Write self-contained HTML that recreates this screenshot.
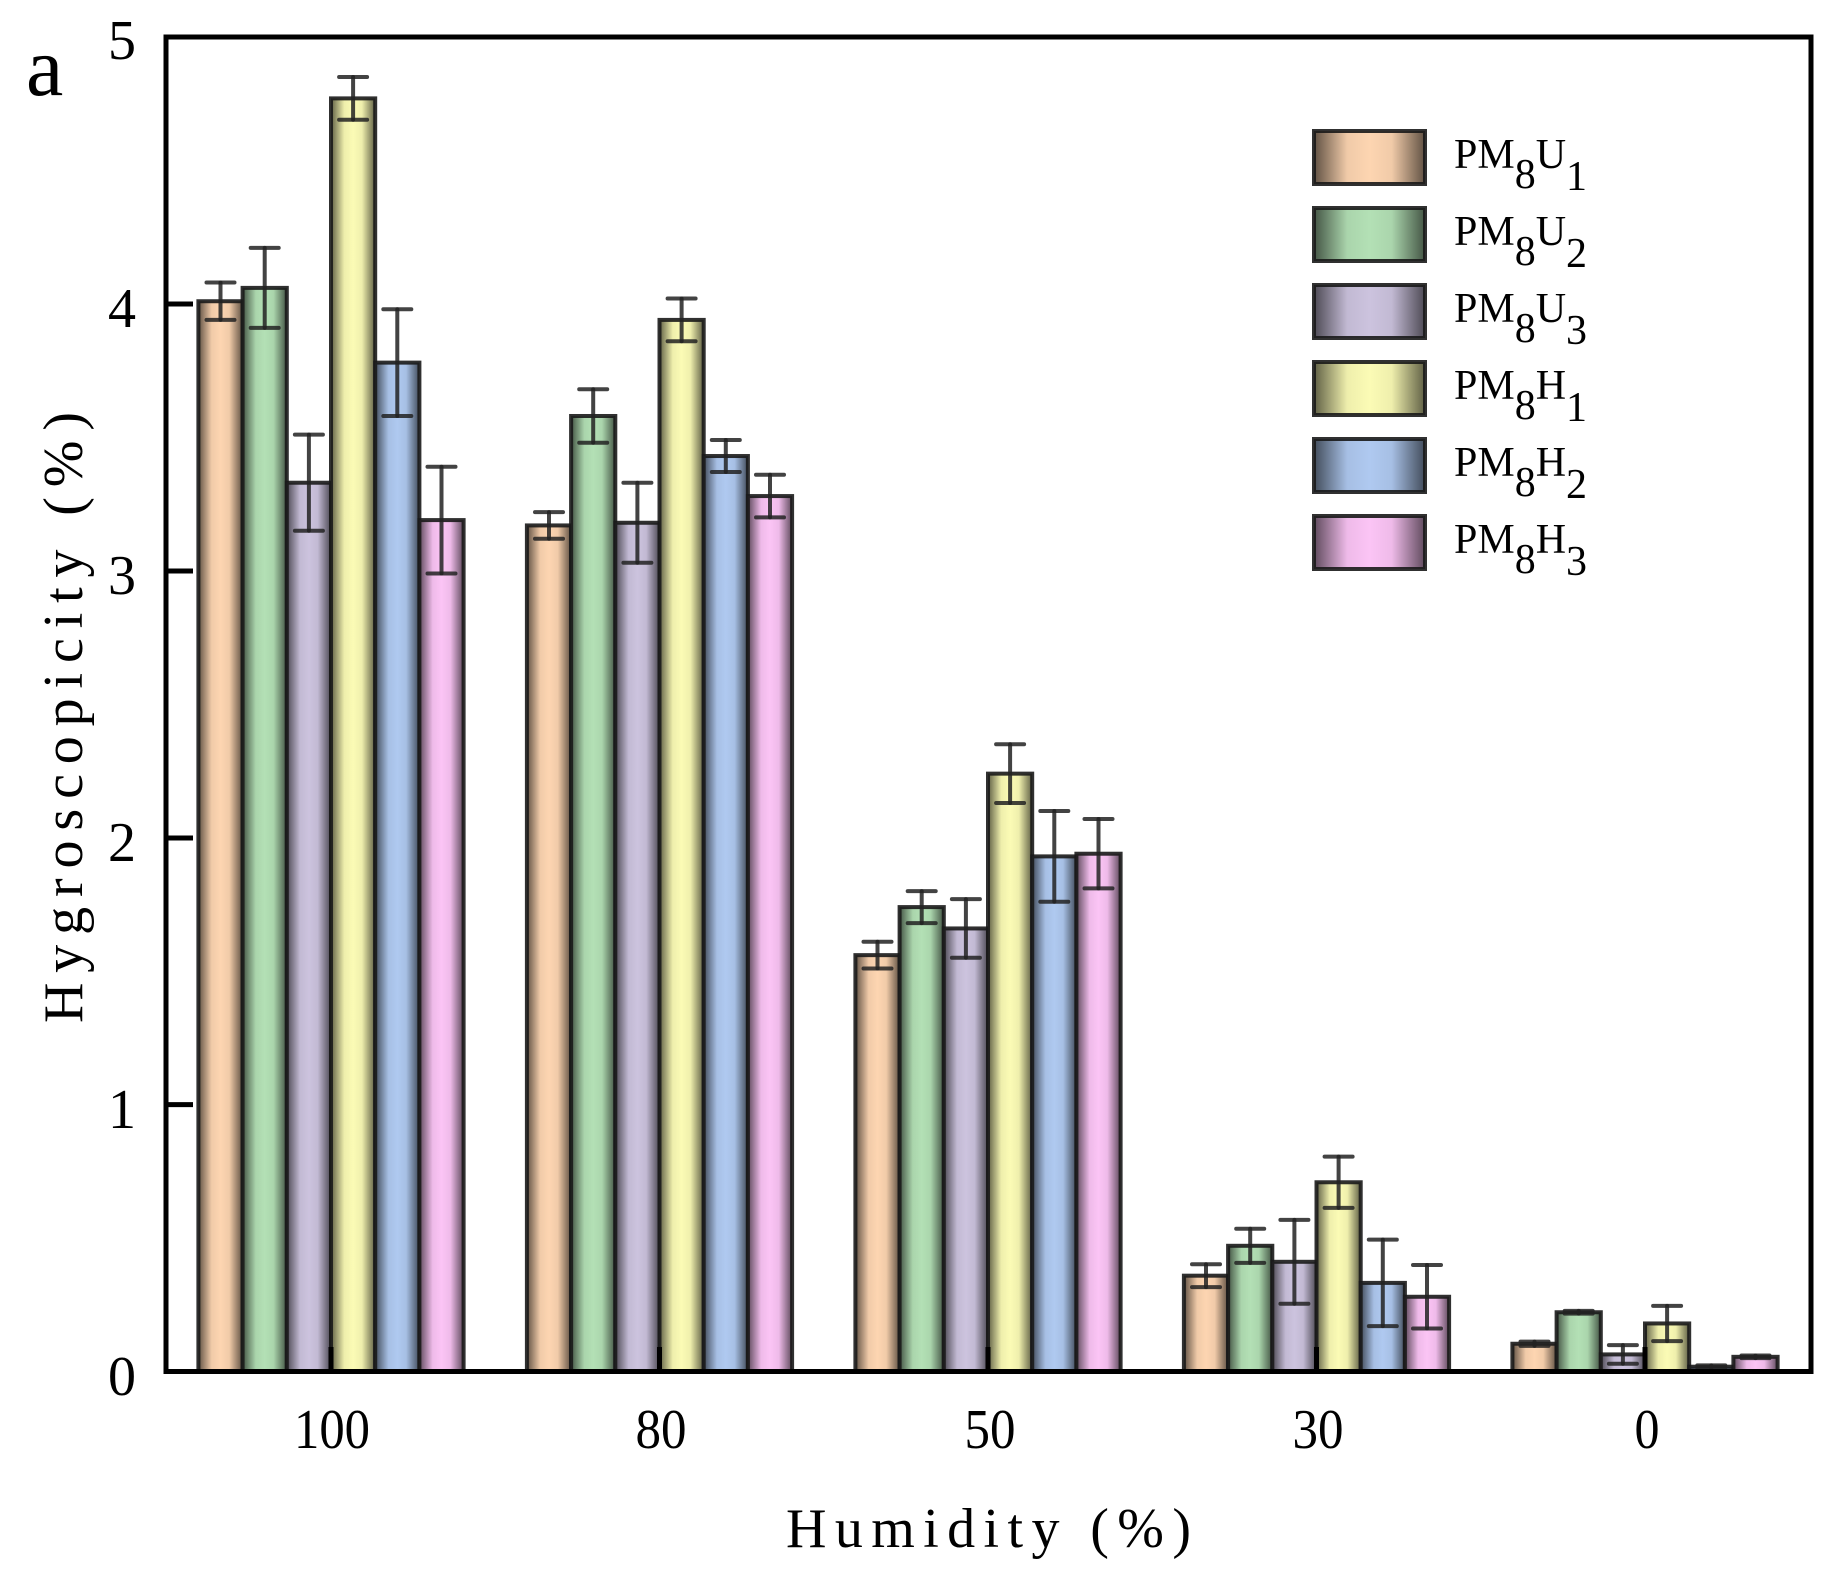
<!DOCTYPE html>
<html><head><meta charset="utf-8"><style>
html,body{margin:0;padding:0;background:#fff;}
svg{display:block;}
text{font-family:"Liberation Serif",serif;fill:#000;}
</style></head><body>
<svg id="s" width="1836" height="1580" viewBox="0 0 1836 1580" xmlns="http://www.w3.org/2000/svg">
<defs>
<linearGradient id="sh" x1="0" y1="0" x2="1" y2="0">
<stop offset="0" stop-color="#000" stop-opacity="0.62"/>
<stop offset="0.3" stop-color="#000" stop-opacity="0.05"/>
<stop offset="0.5" stop-color="#000" stop-opacity="0"/>
<stop offset="0.7" stop-color="#000" stop-opacity="0.05"/>
<stop offset="1" stop-color="#000" stop-opacity="0.62"/>
</linearGradient>
</defs>
<g id="bars"></g>
<rect x="166" y="37" width="1645" height="1334.5" fill="none" stroke="#000" stroke-width="5"/>
<g stroke="#000" stroke-width="5">
<line x1="166" y1="304" x2="193" y2="304"/>
<line x1="166" y1="571" x2="193" y2="571"/>
<line x1="166" y1="838" x2="193" y2="838"/>
<line x1="166" y1="1104.6" x2="193" y2="1104.6"/>
<line x1="331" y1="1371" x2="331" y2="1347"/>
<line x1="659.5" y1="1371" x2="659.5" y2="1347"/>
<line x1="988" y1="1371" x2="988" y2="1347"/>
<line x1="1316.5" y1="1371" x2="1316.5" y2="1347"/>
<line x1="1645" y1="1371" x2="1645" y2="1347"/>
</g>
<g font-size="56" text-anchor="end">
<text x="136" y="59">5</text>
<text x="136" y="327">4</text>
<text x="136" y="594">3</text>
<text x="136" y="861">2</text>
<text x="136" y="1128">1</text>
<text x="136" y="1395">0</text>
</g>
<g font-size="56" text-anchor="middle">
<text x="332" y="1448" textLength="76" lengthAdjust="spacingAndGlyphs">100</text>
<text x="661" y="1448" textLength="51" lengthAdjust="spacingAndGlyphs">80</text>
<text x="990" y="1448" textLength="51" lengthAdjust="spacingAndGlyphs">50</text>
<text x="1318" y="1448" textLength="51" lengthAdjust="spacingAndGlyphs">30</text>
<text x="1647" y="1448" textLength="25" lengthAdjust="spacingAndGlyphs">0</text>
</g>
<text x="786" y="1547" font-size="56" textLength="405" lengthAdjust="spacing">Humidity (%)</text>
<text transform="translate(82,1023) rotate(-90)" font-size="56" textLength="611" lengthAdjust="spacing">Hygroscopicity (%)</text>
<text x="26" y="95" font-size="84">a</text>
<g id="leg"></g>
<g font-size="42">
<text x="1454" y="168">PM<tspan dy="20">8</tspan><tspan dy="-20">U</tspan><tspan dy="22">1</tspan></text>
<text x="1454" y="245">PM<tspan dy="20">8</tspan><tspan dy="-20">U</tspan><tspan dy="22">2</tspan></text>
<text x="1454" y="322">PM<tspan dy="20">8</tspan><tspan dy="-20">U</tspan><tspan dy="22">3</tspan></text>
<text x="1454" y="399">PM<tspan dy="20">8</tspan><tspan dy="-20">H</tspan><tspan dy="22">1</tspan></text>
<text x="1454" y="476">PM<tspan dy="20">8</tspan><tspan dy="-20">H</tspan><tspan dy="22">2</tspan></text>
<text x="1454" y="553">PM<tspan dy="20">8</tspan><tspan dy="-20">H</tspan><tspan dy="22">3</tspan></text>
</g>
</svg>
<script>
(function(){
var NS="http://www.w3.org/2000/svg";
var cols=["#FDD5B1","#B3E0B5","#CCC3DE","#FBFBB5","#AFC9F0","#FBC4F5"];
var centers=[331,659.5,988,1316.5,1645];
var vals=[[4.01,4.06,3.33,4.77,3.78,3.19],[3.17,3.58,3.18,3.94,3.43,3.28],[1.56,1.74,1.66,2.24,1.93,1.94],[0.359,0.471,0.411,0.709,0.332,0.280],[0.104,0.222,0.064,0.18,0.018,0.055]];
var errs=[[0.07,0.15,0.18,0.08,0.2,0.2],[0.05,0.1,0.15,0.08,0.06,0.08],[0.05,0.06,0.11,0.11,0.17,0.13],[0.043,0.064,0.157,0.096,0.162,0.119],[0.008,0.005,0.035,0.066,0.005,0.005]];
var y0=1371.5,k=266.9,w=44.2;
var g=document.getElementById("bars");
function el(n,a){var e=document.createElementNS(NS,n);for(var q in a)e.setAttribute(q,a[q]);return e;}
function bar(par,x,y,ww,h,c){
 par.appendChild(el("rect",{x:x,y:y,width:ww,height:h,fill:c}));
 par.appendChild(el("rect",{x:x,y:y,width:ww,height:h,fill:"url(#sh)"}));
 par.appendChild(el("rect",{x:x,y:y,width:ww,height:h,fill:"none",stroke:"#1a1a1a","stroke-opacity":"0.9","stroke-width":"4"}));
}
for(var gi=0;gi<5;gi++){for(var i=0;i<6;i++){
 var x=centers[gi]-132.6+i*w,v=vals[gi][i],yt=y0-v*k;
 bar(g,x,yt,w,v*k,cols[i]);
}}
for(var gi=0;gi<5;gi++){for(var i=0;i<6;i++){
 var cx=centers[gi]-132.6+i*w+w/2,v=vals[gi][i],e=errs[gi][i];
 var a=y0-(v+e)*k,b=y0-(v-e)*k;
 var st={stroke:"#222","stroke-opacity":"0.85","stroke-width":"4","stroke-linecap":"round"};
 var l1=el("line",Object.assign({x1:cx,y1:a,x2:cx,y2:b},st));g.appendChild(l1);
 g.appendChild(el("line",Object.assign({x1:cx-14,y1:a,x2:cx+14,y2:a},st)));
 g.appendChild(el("line",Object.assign({x1:cx-14,y1:b,x2:cx+14,y2:b},st)));
}}
var lg=document.getElementById("leg");
for(var i=0;i<6;i++){bar(lg,1314,131+i*77,111,53,cols[i]);}
})();
</script>
</body></html>
